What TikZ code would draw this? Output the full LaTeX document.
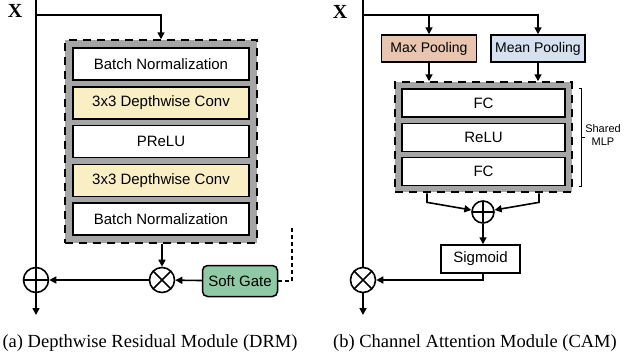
\documentclass[tikz,border=0pt]{standalone}
\usepackage{fontspec}
\setmainfont{Liberation Serif}
\setsansfont{Liberation Sans}
\usepackage{xcolor}
\usetikzlibrary{arrows.meta, positioning, calc, fit, backgrounds}
\definecolor{convyellow}{HTML}{FAEEC4}
\definecolor{gategreen}{HTML}{8FC9A6}
\definecolor{maxred}{HTML}{E9C5B0}
\definecolor{meanblue}{HTML}{D5E1EF}
\definecolor{groupgray}{HTML}{A5A5A5}
\tikzset{
    layer/.style={
        rectangle,
        draw=black,
        fill=white,
        line width=1.5pt,
        minimum width=176pt,
        minimum height=32pt,
        inner sep=0pt,
        font=\fontsize{15}{18}\sffamily
    },
    conv/.style={
        layer,
        fill=convyellow
    },
    mlplayer/.style={
        layer,
        minimum width=163pt,
        minimum height=28pt
    },
    pool/.style={
        layer,
        minimum width=95pt,
        minimum height=27pt,
        font=\fontsize{14}{17}\sffamily
    },
    gate/.style={
        layer,
        rounded corners=5pt,
        fill=gategreen,
        minimum width=75pt,
        minimum height=31pt
    },
    group/.style={
        rectangle,
        draw=black,
        fill=groupgray,
        line width=2pt,
        dash pattern=on 8pt off 6pt,
        inner sep=7pt
    },
    opsum/.style={
        circle,
        draw=black,
        fill=white,
        line width=1.6pt,
        inner sep=0pt,
        minimum size=25pt,
        path picture={
            \draw[line width=1.6pt]
                (path picture bounding box.north) -- (path picture bounding box.south)
                (path picture bounding box.west) -- (path picture bounding box.east);
        }
    },
    opmul/.style={
        opsum,
        path picture={
            \draw[line width=1.6pt]
                (path picture bounding box.north east) -- (path picture bounding box.south west)
                (path picture bounding box.north west) -- (path picture bounding box.south east);
        }
    },
    inlabel/.style={
        font=\fontsize{20}{22}\bfseries
    },
    caption/.style={
        font=\fontsize{18.5}{22}\selectfont
    },
    plain/.style={
        draw,
        line width=1.6pt
    },
    line/.style={
        draw,
        -{Triangle[length=7pt,width=7pt]},
        line width=1.6pt
    }
}

\begin{document}
\begin{tikzpicture}[x=1pt, y=-1pt]

    \useasboundingbox (0,0) rectangle (626,360);

    % (a) Depthwise Residual Module
    \node (xa) [inlabel] at (15,11) {X};
    \coordinate (ina) at (36,0);
    \coordinate (splita) at (36,15);
    \coordinate (outa) at (36,315);

    \node (bn1) [layer] at (161,64) {Batch Normalization};
    \node (dw1) [conv, below=5.3pt of bn1] {3x3 Depthwise Conv};
    \node (act) [layer, below=5.3pt of dw1] {PReLU};
    \node (dw2) [conv, below=5.3pt of act] {3x3 Depthwise Conv};
    \node (bn2) [layer, below=5.3pt of dw2] {Batch Normalization};

    \begin{scope}[on background layer]
        \node (grpa) [group, fit=(bn1) (bn2)] {};
    \end{scope}

    \node (suma) [opsum] at (36,280) {};
    \node (mula) [opmul] at (162,280) {};
    \node (gate) [gate] at (240,281) {Soft Gate};
    \coordinate (gatein) at (292,225);

    % Connections
    \draw [plain] (ina) -- (suma);
    \draw [line] (splita) -| (grpa.north);
    \draw [line] (grpa.south -| mula) -- (mula);
    \draw [line] (gate) -- (mula);
    \draw [line] (mula) -- (suma);
    \draw [line] (suma) -- (outa);
    \draw [plain, dash pattern=on 4pt off 3pt] (gate.east) -| (gatein);

    \node (capa) [caption] at (150,343) {(a) Depthwise Residual Module (DRM)};

    % (b) Channel Attention Module
    \node (xb) [inlabel] at (340,12) {X};
    \coordinate (inb) at (363,0);
    \coordinate (splitb) at (363,15);
    \coordinate (outb) at (363,315);

    \node (maxp) [pool, fill=maxred] at (429,48.5) {Max Pooling};
    \node (meanp) [pool, fill=meanblue, minimum width=94pt] at (538,48.5) {Mean Pooling};

    \node (fc1) [mlplayer] at (483.5,103) {FC};
    \node (relu) [mlplayer, below=4.8pt of fc1] {ReLU};
    \node (fc2) [mlplayer, below=4.8pt of relu] {FC};

    \begin{scope}[on background layer]
        \node (grpb) [group, inner sep=6pt] [fit=(fc1) (fc2)] {};
    \end{scope}

    \node (sumb) [opsum, minimum size=22pt] at (483,212) {};
    \node (sig) [layer, minimum width=79pt, minimum height=28pt] at (480.5,259) {Sigmoid};
    \node (mulb) [opmul] at (363,280) {};

    % bracket for the shared MLP
    \draw [line width=0.9pt]
        ([xshift=6pt]grpb.east |- fc1.north) -- ++(3,0) -- ([xshift=9pt]grpb.east |- fc2.south) -- ++(-3,0);
    \draw [line width=0.9pt] ([xshift=9pt]grpb.east) -- ++(3,0);
    \node (mlp) [font=\fontsize{11}{13}\sffamily, align=center] at (603,135) {Shared\\MLP};

    % Connections
    \draw [plain] (inb) -- (mulb);
    \draw [line] (splitb) -| (maxp);
    \draw [line] (splitb) -| (meanp);
    \draw [line] (maxp) -- (maxp |- grpb.north);
    \draw [line] (meanp) -- (meanp |- grpb.north);
    \draw [line] ([xshift=-2pt]maxp.south |- grpb.south) -- ++(0,9) -- (sumb);
    \draw [line] ([xshift=1pt]meanp.south |- grpb.south) -- ++(0,9) -- (sumb);
    \draw [line] (sumb) -- (sumb |- sig.north);
    \draw [line] (sumb |- sig.south) |- (mulb);
    \draw [line] (mulb) -- (outb);

    \node (capb) [caption] at (475,343) {(b) Channel Attention Module (CAM)};

\end{tikzpicture}
\end{document}
